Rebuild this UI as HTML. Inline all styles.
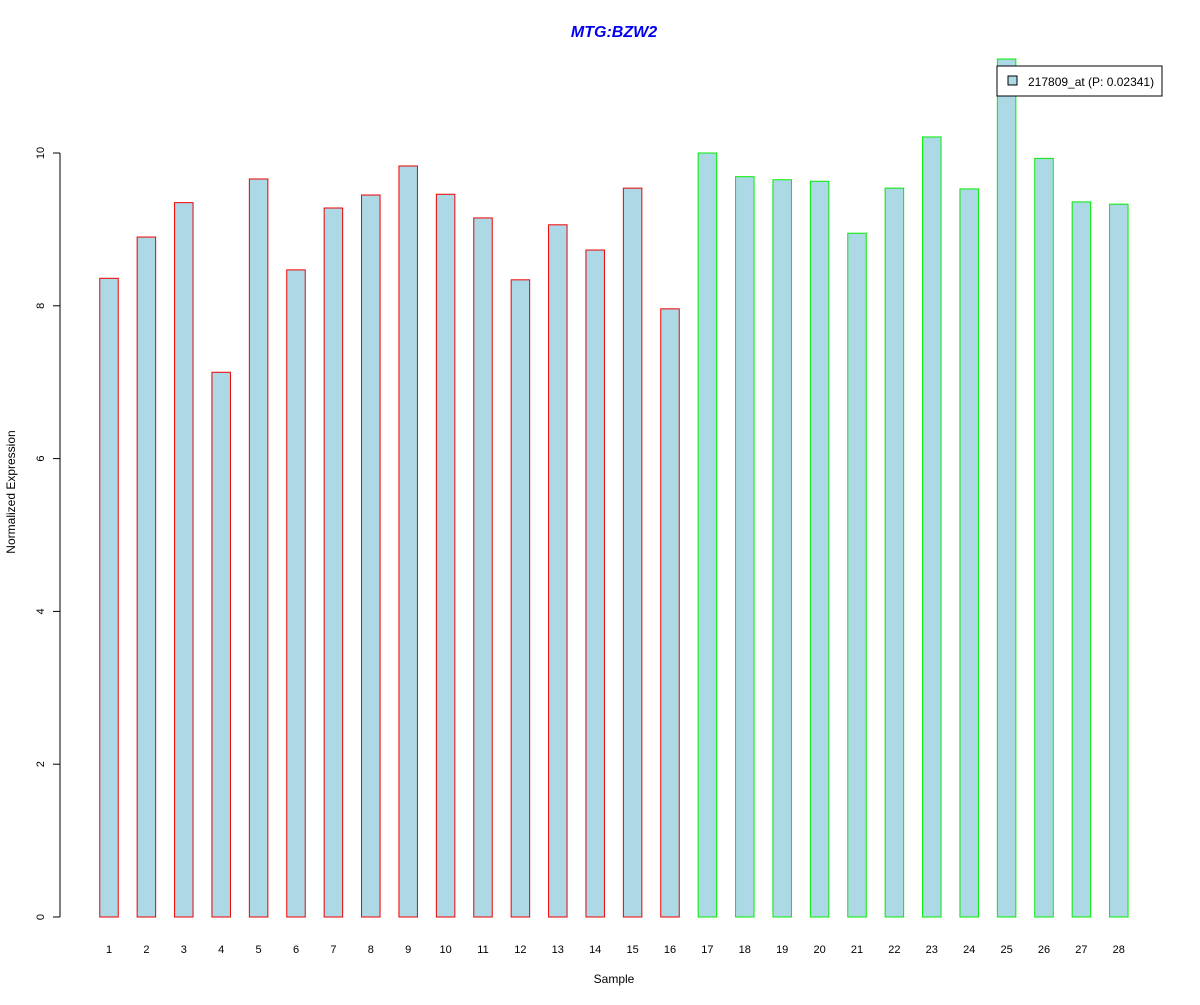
<!DOCTYPE html>
<html><head><meta charset="utf-8"><style>
body{margin:0;background:#fff}
svg{font-family:"Liberation Sans",Arial,sans-serif}
</style></head><body>
<svg id="chart" width="1200" height="1000" viewBox="0 0 1200 1000" xmlns="http://www.w3.org/2000/svg">
<rect width="1200" height="1000" fill="#fff"/>
<text x="614" y="37" text-anchor="middle" font-size="16" font-weight="bold" font-style="italic" fill="#0000ee">MTG:BZW2</text>
<text x="614" y="983" text-anchor="middle" font-size="12">Sample</text>
<text transform="translate(15,492) rotate(-90)" text-anchor="middle" font-size="12">Normalized Expression</text>
<g id="bars"></g>
<g id="axis"></g>
<g>
<rect x="997" y="66" width="165" height="30" fill="#fff" stroke="#000"/>
<rect x="1008" y="76" width="9" height="9" fill="#add8e6" stroke="#000"/>
<text x="1028" y="86" font-size="12">217809_at (P: 0.02341)</text>
</g>
</svg>
<script>
const categories = ["1","2","3","4","5","6","7","8","9","10","11","12","13","14","15","16","17","18","19","20","21","22","23","24","25","26","27","28"];
const values = [8.36,8.90,9.35,7.13,9.66,8.47,9.28,9.45,9.83,9.46,9.15,8.34,9.06,8.73,9.54,7.96,10.0,9.69,9.65,9.63,8.95,9.54,10.21,9.53,11.23,9.93,9.36,9.33];
const groups = [0,0,0,0,0,0,0,0,0,0,0,0,0,0,0,0,1,1,1,1,1,1,1,1,1,1,1,1];
const yTicks = [0,2,4,6,8,10];
const ns = "http://www.w3.org/2000/svg";
const y = v => 917 - v * 76.4;
const x = i => 109 + i * 37.4;
const barW = 18.5;
const bars = document.getElementById("bars");
values.forEach((v, i) => {
  const r = document.createElementNS(ns, "rect");
  r.setAttribute("x", x(i) - barW / 2);
  r.setAttribute("y", y(v));
  r.setAttribute("width", barW);
  r.setAttribute("height", y(0) - y(v));
  r.setAttribute("fill", "#add8e6");
  r.setAttribute("stroke", groups[i] ? "#00ee00" : "#ee0000");
  
  
  bars.appendChild(r);
  const t = document.createElementNS(ns, "text");
  t.setAttribute("x", x(i));
  t.setAttribute("y", 953);
  t.setAttribute("text-anchor", "middle");
  t.setAttribute("font-size", "11");
  t.textContent = categories[i];
  
  
  bars.appendChild(t);
});
const ax = document.getElementById("axis");
const line = document.createElementNS(ns, "line");
line.setAttribute("x1", 60); line.setAttribute("x2", 60);
line.setAttribute("y1", y(yTicks[yTicks.length - 1])); line.setAttribute("y2", y(yTicks[0]));
line.setAttribute("stroke", "#000");


ax.appendChild(line);
yTicks.forEach(v => {
  const l = document.createElementNS(ns, "line");
  l.setAttribute("x1", 53); l.setAttribute("x2", 60);
  l.setAttribute("y1", y(v)); l.setAttribute("y2", y(v));
  l.setAttribute("stroke", "#000");
  
  
  ax.appendChild(l);
  const t = document.createElementNS(ns, "text");
  t.setAttribute("transform", "translate(44," + y(v) + ") rotate(-90)");
  t.setAttribute("text-anchor", "middle");
  t.setAttribute("font-size", "11");
  t.textContent = v;
  
  
  ax.appendChild(t);
});
</script>
</body></html>
